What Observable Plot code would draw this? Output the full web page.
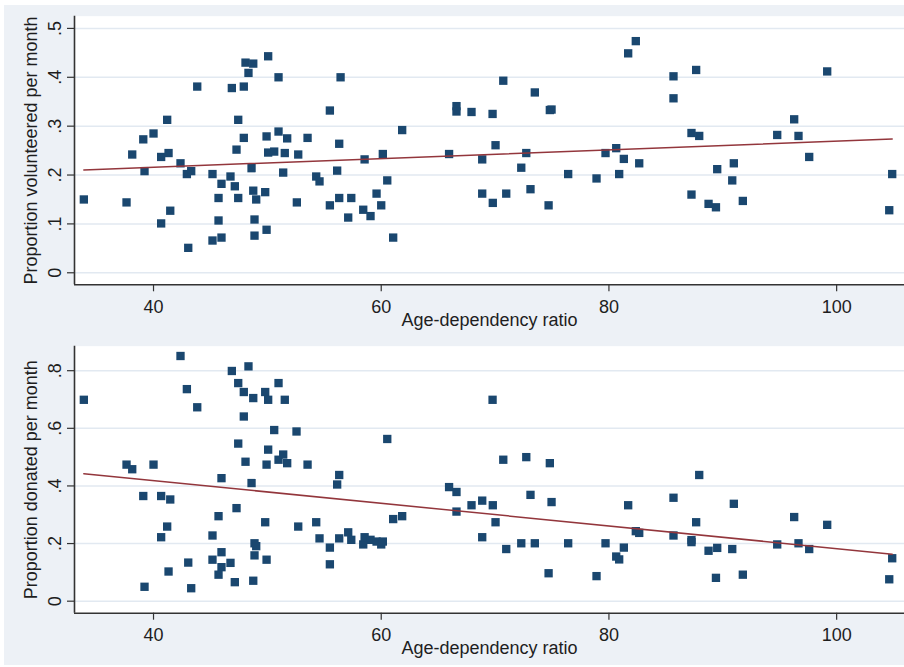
<!DOCTYPE html>
<html>
<head>
<meta charset="utf-8">
<script src="https://cdn.jsdelivr.net/npm/d3@7"></script>
<script src="https://cdn.jsdelivr.net/npm/@observablehq/plot@0.6"></script>
<style>
  html, body { margin: 0; padding: 0; background: #fff; }
  #fig { position: absolute; left: 4px; top: 5px; width: 900px; height: 660px; background: #edf1f6; }
  #fig svg { display: block; }
</style>
</head>
<body>
<div id="fig"></div>
<script>
// Age-dependency ratio of each country and the share that volunteered in a month
const ratioVol = [
  33.88, 37.63, 38.13, 39.10, 39.21, 40.00, 40.67, 40.67, 41.20, 41.32, 41.47, 42.37, 42.93, 43.31, 43.05, 43.84,
  45.18, 45.18, 45.71, 45.71, 45.97, 45.97, 46.76, 46.88, 47.14, 47.29, 47.44, 47.44, 47.93, 47.93, 48.08, 48.34,
  48.76, 48.61, 48.76, 49.02, 48.87, 48.87, 49.81, 49.93, 49.93, 50.07, 50.07, 50.60, 50.98, 50.98, 51.39, 51.53,
  51.74, 52.71, 52.59, 53.53, 54.29, 54.58, 55.49, 55.49, 56.13, 56.31, 56.31, 56.43, 57.10, 57.37, 58.42, 58.54,
  59.06, 59.59, 60.00, 60.14, 60.53, 61.05, 61.84, 65.96, 66.61, 66.61, 67.93, 68.87, 68.87, 69.78, 69.80, 70.04,
  70.72, 70.98, 72.30, 72.74, 73.11, 73.49, 74.81, 74.96, 74.70, 76.42, 78.91, 79.70, 80.64, 80.90, 81.31, 81.69,
  82.36, 82.66, 85.67, 85.67, 87.25, 87.25, 87.66, 87.93, 88.75, 89.40, 89.51, 90.83, 90.97, 91.76, 94.78, 96.27,
  96.65, 97.59, 99.17, 104.62, 104.88
];
const volunteered = [
  0.150, 0.144, 0.242, 0.273, 0.208, 0.285, 0.237, 0.101, 0.313, 0.245, 0.127, 0.224, 0.202, 0.208, 0.051, 0.381,
  0.202, 0.066, 0.153, 0.107, 0.072, 0.182, 0.197, 0.378, 0.177, 0.252, 0.313, 0.153, 0.381, 0.276, 0.430, 0.409,
  0.428, 0.214, 0.168, 0.150, 0.109, 0.076, 0.165, 0.088, 0.279, 0.443, 0.246, 0.248, 0.289, 0.400, 0.205, 0.245,
  0.275, 0.242, 0.144, 0.276, 0.197, 0.187, 0.332, 0.138, 0.209, 0.264, 0.153, 0.400, 0.113, 0.153, 0.129, 0.232,
  0.116, 0.162, 0.138, 0.243, 0.189, 0.072, 0.292, 0.243, 0.341, 0.330, 0.329, 0.232, 0.162, 0.325, 0.143, 0.261,
  0.393, 0.162, 0.215, 0.245, 0.171, 0.369, 0.333, 0.334, 0.138, 0.202, 0.193, 0.245, 0.255, 0.202, 0.233, 0.449,
  0.474, 0.224, 0.402, 0.357, 0.286, 0.160, 0.415, 0.280, 0.141, 0.134, 0.212, 0.189, 0.224, 0.147, 0.282, 0.314,
  0.280, 0.237, 0.412, 0.128, 0.202
];

// Age-dependency ratio of each country and the share that donated in a month
const ratioDon = [
  33.88, 37.63, 38.13, 40.00, 39.10, 39.21, 40.67, 41.47, 41.20, 40.67, 41.32, 42.37, 42.93, 43.84, 43.05, 43.31,
  45.18, 45.18, 45.71, 45.97, 45.97, 45.97, 45.71, 46.76, 46.88, 47.44, 47.29, 47.44, 47.14, 47.93, 47.93, 48.08,
  48.34, 48.76, 48.61, 48.87, 49.02, 48.87, 48.76, 49.81, 50.07, 49.93, 50.07, 49.81, 49.93, 50.98, 50.60, 51.53,
  50.98, 51.39, 51.74, 52.56, 53.53, 52.71, 54.29, 54.58, 55.49, 55.49, 56.31, 56.13, 56.31, 57.10, 57.37, 58.42,
  58.54, 59.06, 59.59, 60.00, 60.14, 60.53, 61.05, 61.84, 65.96, 66.61, 66.61, 67.93, 68.87, 68.87, 69.78, 69.80,
  70.04, 70.72, 70.98, 72.30, 72.74, 73.11, 73.49, 74.81, 74.96, 74.70, 76.42, 78.91, 79.70, 80.64, 80.90, 81.31,
  81.69, 82.36, 82.66, 85.67, 85.67, 87.25, 87.25, 87.66, 87.93, 88.75, 89.51, 89.40, 90.83, 90.97, 91.76, 94.78,
  96.27, 96.65, 97.59, 99.17, 104.62, 104.88
];
const donated = [
  0.699, 0.474, 0.458, 0.474, 0.365, 0.050, 0.365, 0.353, 0.259, 0.222, 0.103, 0.851, 0.736, 0.673, 0.134, 0.045,
  0.228, 0.144, 0.295, 0.427, 0.170, 0.118, 0.092, 0.133, 0.799, 0.757, 0.323, 0.547, 0.066, 0.726, 0.641, 0.484,
  0.815, 0.705, 0.410, 0.201, 0.191, 0.159, 0.071, 0.726, 0.699, 0.474, 0.526, 0.274, 0.144, 0.757, 0.594, 0.699,
  0.491, 0.509, 0.479, 0.589, 0.474, 0.259, 0.274, 0.218, 0.186, 0.128, 0.438, 0.405, 0.218, 0.239, 0.213, 0.197,
  0.222, 0.213, 0.207, 0.197, 0.207, 0.563, 0.285, 0.295, 0.396, 0.379, 0.311, 0.333, 0.349, 0.222, 0.699, 0.333,
  0.274, 0.491, 0.181, 0.201, 0.500, 0.369, 0.201, 0.479, 0.344, 0.097, 0.201, 0.087, 0.201, 0.155, 0.145, 0.186,
  0.333, 0.243, 0.237, 0.359, 0.228, 0.212, 0.205, 0.274, 0.438, 0.175, 0.185, 0.081, 0.181, 0.338, 0.092, 0.197,
  0.292, 0.201, 0.181, 0.265, 0.076, 0.149
];

const xTicks = [40, 60, 80, 100];
const volTicks = [0, 0.1, 0.2, 0.3, 0.4, 0.5];
const donTicks = [0, 0.2, 0.4, 0.6, 0.8];
const xTitle = "Age-dependency ratio";
const volTitle = "Proportion volunteered per month";
const donTitle = "Proportion donated per month";

const FONT = "'Liberation Sans', Arial, sans-serif";
const INK = "#1e1e1e";
const AXIS = "#333";

// Stata-style labels: drop the leading zero (".2", ".4", ...)
const fmt = d => d === 0 ? "0" : String(+d.toFixed(2)).replace(/^0/, "");

function panel({xs, ys, yDomain, yTicks, yTitle, marginBottom}) {
  const data = xs.map((x, i) => ({ratio: x, share: ys[i]}));
  return Plot.plot({
    width: 900,
    height: 330,
    marginLeft: 70,
    marginRight: 0,
    marginTop: 10.7,
    marginBottom,
    style: {background: "transparent", fontFamily: FONT, fontSize: "18px", color: INK},
    x: {domain: [33.06, 105.96]},
    y: {domain: yDomain},
    marks: [
      Plot.frame({fill: "#fff", stroke: null}),
      Plot.gridY(yTicks, {stroke: "#e2e9f1", strokeOpacity: 1, strokeWidth: 1.5}),
      Plot.ruleX([33.06], {stroke: AXIS, strokeWidth: 1.6}),
      Plot.ruleY([yDomain[0]], {stroke: AXIS, strokeWidth: 1.6}),
      Plot.axisY(yTicks, {tickSize: 7, tickFormat: () => "", label: null, stroke: AXIS, strokeWidth: 1.2}),
      Plot.text(yTicks, {
        y: d => d, text: fmt, frameAnchor: "left", dx: -14, rotate: -90,
        textAnchor: "middle", lineAnchor: "bottom", fontSize: 18, fill: INK
      }),
      Plot.axisX(xTicks, {tickSize: 7, tickPadding: 8, label: null, stroke: AXIS, strokeWidth: 1.2, fontSize: 18, fill: INK}),
      Plot.text([xTitle], {frameAnchor: "bottom", dy: 35, lineAnchor: "middle", fontSize: 18, fill: INK}),
      Plot.text([yTitle], {
        frameAnchor: "left", dx: -43, rotate: -90,
        textAnchor: "middle", lineAnchor: "middle", fontSize: 18, fill: INK
      }),
      Plot.dot(data, {x: "ratio", y: "share", symbol: "square", r: 4.7, fill: "#1a476f"}),
      Plot.linearRegressionY(data, {x: "ratio", y: "share", ci: 0, stroke: "#93363c", strokeWidth: 1.5})
    ]
  });
}

const fig = document.getElementById("fig");
fig.append(panel({
  xs: ratioVol, ys: volunteered, yDomain: [-0.0246, 0.525],
  yTicks: volTicks, yTitle: volTitle, marginBottom: 50.7
}));
fig.append(panel({
  xs: ratioDon, ys: donated, yDomain: [-0.0417, 0.885],
  yTicks: donTicks, yTitle: donTitle, marginBottom: 52.3
}));
</script>
</body>
</html>
